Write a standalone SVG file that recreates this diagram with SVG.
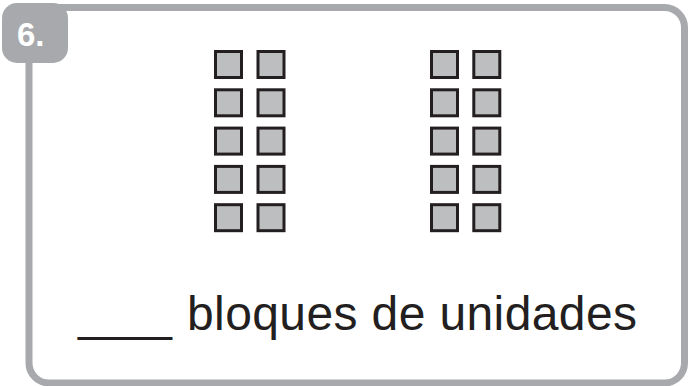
<svg xmlns="http://www.w3.org/2000/svg" width="688" height="386" viewBox="0 0 688 386">
<style>
.frame{fill:#ffffff;stroke:#a7a9ac;stroke-width:7}
.tab{fill:#a7a9ac}
.num{font-family:"Liberation Sans",Arial,sans-serif;font-weight:bold;font-size:33px;fill:#ffffff}
.blk{fill:#bcbec0;stroke:#231f20;stroke-width:3}
.lbl{font-family:"Liberation Sans",Arial,sans-serif;font-size:48px;fill:#231f20}
</style>
<rect width="688" height="386" fill="#ffffff"/>
<g id="frame">
<rect class="frame" x="29" y="7.5" width="655.5" height="375.5" rx="20"/>
</g>
<g id="tab">
<rect class="tab" x="2" y="3" width="66" height="60" rx="15"/>
<text class="num" x="17" y="46">6.</text>
</g>
<g id="blocks-left">
<rect class="blk" x="215.5" y="51.5" width="26" height="26"/>
<rect class="blk" x="258" y="51.5" width="26" height="26"/>
<rect class="blk" x="215.5" y="89.8" width="26" height="26"/>
<rect class="blk" x="258" y="89.8" width="26" height="26"/>
<rect class="blk" x="215.5" y="128.1" width="26" height="26"/>
<rect class="blk" x="258" y="128.1" width="26" height="26"/>
<rect class="blk" x="215.5" y="166.4" width="26" height="26"/>
<rect class="blk" x="258" y="166.4" width="26" height="26"/>
<rect class="blk" x="215.5" y="204.7" width="26" height="26"/>
<rect class="blk" x="258" y="204.7" width="26" height="26"/>
</g>
<g id="blocks-right">
<rect class="blk" x="431.5" y="51.5" width="26" height="26"/>
<rect class="blk" x="473.8" y="51.5" width="26" height="26"/>
<rect class="blk" x="431.5" y="89.8" width="26" height="26"/>
<rect class="blk" x="473.8" y="89.8" width="26" height="26"/>
<rect class="blk" x="431.5" y="128.1" width="26" height="26"/>
<rect class="blk" x="473.8" y="128.1" width="26" height="26"/>
<rect class="blk" x="431.5" y="166.4" width="26" height="26"/>
<rect class="blk" x="473.8" y="166.4" width="26" height="26"/>
<rect class="blk" x="431.5" y="204.7" width="26" height="26"/>
<rect class="blk" x="473.8" y="204.7" width="26" height="26"/>
</g>
<g id="label">
<text class="lbl" x="78" y="330" textLength="94" lengthAdjust="spacingAndGlyphs">____</text>
<text class="lbl" x="187" y="330" textLength="450" lengthAdjust="spacing">bloques de unidades</text>
</g>
</svg>
